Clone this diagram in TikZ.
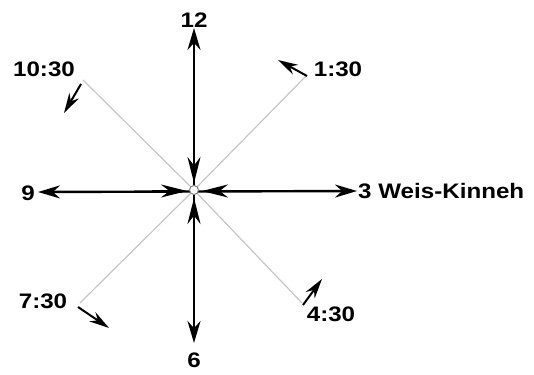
\documentclass[tikz,border=0pt]{standalone}
\usepackage{fontspec}
\setmainfont{Liberation Sans}
\usetikzlibrary{arrows.meta}

\begin{document}
\begin{tikzpicture}[x=1pt, y=-1pt,
    lbl/.style={font=\fontsize{21}{24}\selectfont\bfseries, inner sep=0pt, xscale=1.15, transform shape},
    axis/.style={line width=2.4pt, {Stealth[length=22pt,width=13pt]}-{Stealth[length=22pt,width=13pt]}},
    inward/.style={line width=2.4pt, -{Stealth[length=26pt,width=13pt]}},
    ray/.style={gray!45, line width=1.2pt},
    tick/.style={line width=2pt, -{Stealth[length=20pt,width=11pt]}}]

    % Frame
    \useasboundingbox (0,0) rectangle (534,374);

    % End points
    \coordinate (c) at (194,190);
    \coordinate (n) at (194,28);
    \coordinate (s) at (194,343);
    \coordinate (w) at (38,192);
    \coordinate (e) at (357,191);
    \coordinate (nw) at (83,80);
    \coordinate (ne) at (307,75);
    \coordinate (sw) at (80,303);
    \coordinate (se) at (302,303);

    % Diagonal rays
    \draw[ray] (c) -- (nw);
    \draw[ray] (c) -- (ne);
    \draw[ray] (c) -- (sw);
    \draw[ray] (c) -- (se);

    % Main axes
    \draw[axis] (s) -- (n);
    \draw[axis] (w) -- (e);

    % Arrows pointing to the centre
    \coordinate (n1) at (194,150);  \coordinate (n2) at (194,183);
    \coordinate (s1) at (194,230);  \coordinate (s2) at (194,198);
    \coordinate (w1) at (152,191);  \coordinate (w2) at (187,191);
    \coordinate (e1) at (234,191);  \coordinate (e2) at (202,191);
    \draw[inward] (n1) -- (n2);
    \draw[inward] (s1) -- (s2);
    \draw[inward] (w1) -- (w2);
    \draw[inward] (e1) -- (e2);

    % Centre
    \node[circle, draw=gray, fill=white, line width=1pt, minimum size=9pt, inner sep=0pt] (o) at (c) {};

    % Small arrows at the ray ends
    \coordinate (a1) at (81,84);   \coordinate (b1) at (64,113);
    \coordinate (a2) at (307,76);  \coordinate (b2) at (278,60);
    \coordinate (a3) at (78,307);  \coordinate (b3) at (109,328);
    \coordinate (a4) at (303,305); \coordinate (b4) at (322,279);
    \draw[tick] (a1) -- (b1);
    \draw[tick] (a2) -- (b2);
    \draw[tick] (a3) -- (b3);
    \draw[tick] (a4) -- (b4);

    % Labels
    \node[lbl] (l12) at (194,20) {12};
    \node[lbl] (l1030) at (44,69) {10:30};
    \node[lbl] (l130) at (338,69) {1:30};
    \node[lbl] (l9) at (28,193) {9};
    \node[lbl, anchor=west] (l3) at (358,191) {3 Weis-Kinneh};
    \node[lbl] (l730) at (43,301) {7:30};
    \node[lbl] (l430) at (331,314) {4:30};
    \node[lbl] (l6) at (194,360) {6};

\end{tikzpicture}
\end{document}
